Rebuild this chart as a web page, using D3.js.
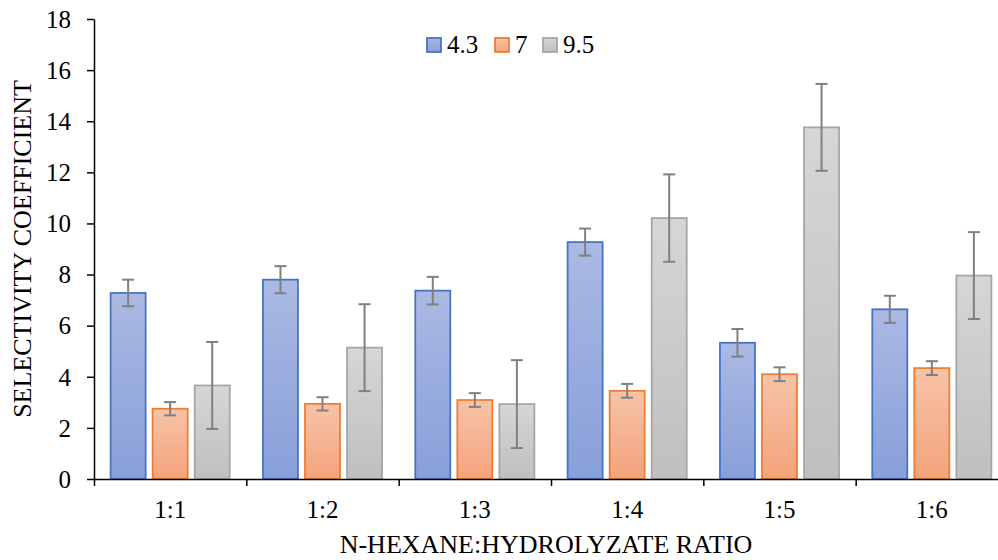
<!DOCTYPE html>
<html>
<head>
<meta charset="utf-8">
<script src="https://cdn.jsdelivr.net/npm/d3@7"></script>
<style>
  body { margin: 0; background: #fff; }
  svg { display: block; }
  .axis path, .axis line { stroke: #000; stroke-width: 1.5; }
</style>
</head>
<body>
<script>
// chart data
var categories = ["1:1", "1:2", "1:3", "1:4", "1:5", "1:6"];
var seriesNames = ["4.3", "7", "9.5"];
var values43 = [7.28, 7.80, 7.37, 9.27, 5.33, 6.64];
var values7 = [2.75, 2.94, 3.09, 3.45, 4.10, 4.34];
var values95 = [3.66, 5.14, 2.93, 10.21, 13.76, 7.96];
var err43 = [0.52, 0.53, 0.54, 0.53, 0.54, 0.53];
var err7 = [0.26, 0.26, 0.27, 0.27, 0.27, 0.27];
var err95 = [1.70, 1.70, 1.72, 1.71, 1.70, 1.70];
var yTicks = [0, 2, 4, 6, 8, 10, 12, 14, 16, 18];

var svgWidth = 998;
var svgHeight = 560;
var fontFamily = "'Liberation Serif', 'Times New Roman', serif";

var margin = { top: 19, left: 94, bottom: 81 };
var plotRight = 1008;   // the source image is cropped on the right
var zeroY = svgHeight - margin.bottom;

var colors = [
    { id: "gBlue", stroke: "#4472C4", top: "#abb9e3", bottom: "#889fd9" },
    { id: "gOrange", stroke: "#ED7D31", top: "#f7c3a8", bottom: "#f4a37b" },
    { id: "gGray", stroke: "#A5A5A5", top: "#d6d6d6", bottom: "#bfbfbf" }
];

var svg = d3.select("body")
    .append("svg")
    .attr("width", svgWidth)
    .attr("height", svgHeight)
    .attr("font-family", fontFamily);

var defs = svg.append("defs");
colors.forEach(c => {
    var g = defs.append("linearGradient")
        .attr("id", c.id)
        .attr("x1", 0).attr("y1", 0)
        .attr("x2", 0).attr("y2", 1);
    g.append("stop").attr("offset", "0%").attr("stop-color", c.top);
    g.append("stop").attr("offset", "100%").attr("stop-color", c.bottom);
});

var rows = categories.map((cat, i) => ({
    cat: cat,
    items: [
        { s: 0, v: values43[i], e: err43[i] },
        { s: 1, v: values7[i], e: err7[i] },
        { s: 2, v: values95[i], e: err95[i] }
    ]
}));

var xScale = d3.scaleBand()
    .domain(categories)
    .range([margin.left, plotRight])
    .padding(0);

var xInner = d3.scaleBand()
    .domain(d3.range(seriesNames.length))
    .range([0, xScale.bandwidth()])
    .paddingInner(0.1667)
    .paddingOuter(0.395);

var yScale = d3.scaleLinear()
    .domain([0, 18])
    .range([zeroY, margin.top]);

// bars
var groups = svg.selectAll(".cat")
    .data(rows)
    .enter()
    .append("g")
    .attr("class", "cat")
    .attr("transform", d => `translate(${xScale(d.cat)},0)`);

groups.selectAll("rect")
    .data(d => d.items)
    .enter()
    .append("rect")
    .attr("x", d => xInner(d.s))
    .attr("y", d => yScale(d.v))
    .attr("width", xInner.bandwidth())
    .attr("height", d => yScale(0) - yScale(d.v))
    .attr("fill", d => `url(#${colors[d.s].id})`)
    .attr("stroke", d => colors[d.s].stroke)
    .attr("stroke-width", 1.75);

// error bars
var capHalf = 6;
var errG = groups.selectAll(".err")
    .data(d => d.items)
    .enter()
    .append("g")
    .attr("class", "err")
    .attr("stroke", "#808080")
    .attr("stroke-width", 2);

errG.append("line")
    .attr("x1", d => xInner(d.s) + xInner.bandwidth() / 2)
    .attr("x2", d => xInner(d.s) + xInner.bandwidth() / 2)
    .attr("y1", d => yScale(d.v + d.e))
    .attr("y2", d => yScale(d.v - d.e));

[1, -1].forEach(sign => {
    errG.append("line")
        .attr("x1", d => xInner(d.s) + xInner.bandwidth() / 2 - capHalf)
        .attr("x2", d => xInner(d.s) + xInner.bandwidth() / 2 + capHalf)
        .attr("y1", d => yScale(d.v + sign * d.e))
        .attr("y2", d => yScale(d.v + sign * d.e));
});

// y axis
var leftAxis = d3.axisLeft(yScale)
    .tickValues(yTicks)
    .tickSize(7)
    .tickSizeOuter(0)
    .tickPadding(16);
var yAxisGroup = svg.append("g")
    .attr("class", "axis")
    .attr("transform", `translate(${margin.left},0)`)
    .call(leftAxis)
    .attr("font-family", fontFamily)
    .attr("font-size", 25);
yAxisGroup.selectAll("text").attr("dy", "0.33em").attr("fill", "#000");

// x axis: boundary ticks
var boundaryScale = d3.scaleLinear()
    .domain([0, categories.length])
    .range([margin.left, plotRight]);
svg.append("g")
    .attr("class", "axis")
    .attr("transform", `translate(0,${zeroY})`)
    .call(d3.axisBottom(boundaryScale)
        .tickValues(d3.range(categories.length + 1))
        .tickFormat("")
        .tickSize(7)
        .tickSizeOuter(0));

// x axis: category labels
var bottomAxis = d3.axisBottom(xScale)
    .tickSize(0)
    .tickPadding(21);
var xLabels = svg.append("g")
    .attr("class", "axis")
    .attr("transform", `translate(0,${zeroY})`)
    .call(bottomAxis)
    .attr("font-family", fontFamily)
    .attr("font-size", 25);
xLabels.select(".domain").remove();
xLabels.selectAll("text").attr("fill", "#000");

// axis titles
svg.append("text")
    .attr("x", 546)
    .attr("y", 553)
    .attr("text-anchor", "middle")
    .attr("font-size", 26)
    .text("N-HEXANE:HYDROLYZATE RATIO");

svg.append("text")
    .attr("transform", "translate(31,249) rotate(-90)")
    .attr("text-anchor", "middle")
    .attr("font-size", 26)
    .text("SELECTIVITY COEFFICIENT");

// legend
var legendX = [427, 495, 543];
var legend = svg.selectAll(".legend")
    .data(seriesNames)
    .enter()
    .append("g")
    .attr("class", "legend")
    .attr("transform", (d, i) => `translate(${legendX[i]},38)`);

legend.append("rect")
    .attr("width", 14)
    .attr("height", 14)
    .attr("fill", (d, i) => `url(#${colors[i].id})`)
    .attr("stroke", (d, i) => colors[i].stroke)
    .attr("stroke-width", 1.75);

legend.append("text")
    .attr("x", 20)
    .attr("y", 15)
    .attr("font-size", 25)
    .text(d => d);
</script>
</body>
</html>
